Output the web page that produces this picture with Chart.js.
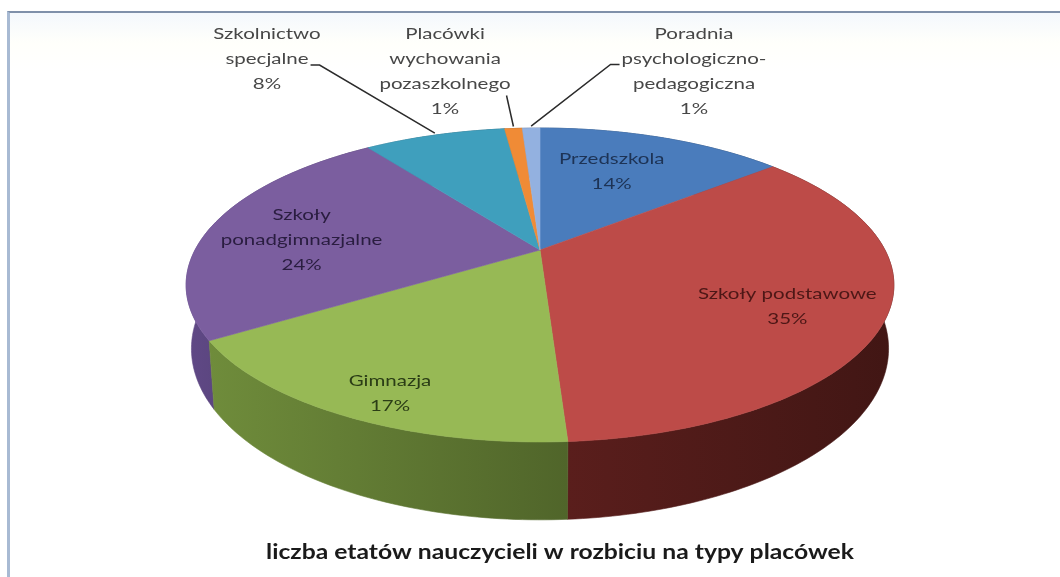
<!DOCTYPE html>
<html>
<head>
<meta charset="utf-8">
<script src="https://cdn.jsdelivr.net/npm/chart.js@4.4.1/dist/chart.umd.min.js"></script>
<style>
  html, body { margin: 0; padding: 0; background: #fff; }
  #wrap { position: relative; width: 1060px; height: 577px; overflow: hidden; }
  #frame { position: absolute; left: 7px; top: 11px; width: 1100px; height: 620px;
           border-left: 3px solid #a8bad3; border-top: 2px solid #7f90aa;
           background: linear-gradient(#f4f8fd, #fffffb 30px, #fff 60px); }
  canvas { position: absolute; left: 0; top: 0; }
</style>
</head>
<body>
<div id="wrap">
  <div id="frame"></div>
  <canvas id="pie" width="1060" height="577"></canvas>
</div>
<script>
/* DATA */
const categories = [
  "Przedszkola",
  "Szkoły podstawowe",
  "Gimnazja",
  "Szkoły\nponadgimnazjalne",
  "Szkolnictwo\nspecjalne",
  "Placówki\nwychowania\npozaszkolnego",
  "Poradnia\npsychologiczno-\npedagogiczna"
];
const shares = [14, 35, 17, 24, 8, 1, 1];
const chartTitle = "liczba etatów nauczycieli w rozbiciu na typy placówek";

/* STYLE */
const topColors  = ["#4a7cbc", "#bd4b48", "#97b955", "#7b5e9f", "#3f9fbd", "#f08b36", "#93b1e0"];
const sideColors = ["#2e4e78", "#5a1e1c", "#6f8c3b", "#604986", "#2c6f86", "#a65e1f", "#62789e"];
const textColors = ["#1d3355", "#4d1716", "#2b3d16", "#2a1d40"];

// projection of the flat pie into a tilted 3D disc (relative to outerRadius)
const RX = 1.568, RY = 0.678, PERSP = 0.223, DEPTH = 0.275, BOT_SHRINK = 0.985;
const HS = 1.28;               // horizontal text stretch of the source image
const TITLE_HS = 1.235;
const LINE = 25;
const LABEL_FONT = "16px Lato";

// inside labels: small nudges off the 3/4-radius point
const labelNudge = [[-24, 1], [-7, 1], [-12, 18], [8, 2]];

// outside labels: block centre, where the leader leaves the text
const callouts = {
  4: { x: 267, y: 59, line: 1, side: "right", elbow: true },
  5: { x: 445, y: 71, line: 2, side: "right", elbow: false },
  6: { x: 694, y: 71, line: 1, side: "left", elbow: true }
};

const shade = (hex, f) => {
  const n = parseInt(hex.slice(1), 16);
  const c = [n >> 16, (n >> 8) & 255, n & 255].map(v => Math.round(v * f));
  return `rgb(${c[0]},${c[1]},${c[2]})`;
};

function stext(ctx, str, x, y, hs) {
  ctx.save();
  ctx.translate(x, y);
  ctx.scale(hs || HS, 1);
  ctx.fillText(str, 0, 0);
  ctx.restore();
}

const pie3d = {
  id: "pie3d",
  beforeDatasetsDraw(chart) {
    const ctx = chart.ctx;
    const arcs = chart.getDatasetMeta(0).data;
    const cx = arcs[0].x, cy = arcs[0].y, r = arcs[0].outerRadius;

    const P = (a, f, drop) => {
      const u = Math.cos(a) * f, v = -Math.sin(a) * f;
      const d = 1 + PERSP * v;
      const x = cx + RX * r * u / d;
      if (!drop) return [x, cy - RY * r * v / d];
      return [cx + (x - cx) * BOT_SHRINK, cy - RY * r * v / d + DEPTH * r / d];
    };
    const rim = (a0, a1, drop) => {
      const n = Math.max(2, Math.ceil((a1 - a0) / (2 * Math.PI) * 360));
      const pts = [];
      for (let k = 0; k <= n; k++) pts.push(P(a0 + (a1 - a0) * k / n, 1, drop));
      return pts;
    };

    /* SIDE WALLS, far ones first */
    const order = arcs.map((el, i) => i).sort((i, j) => {
      const mi = (arcs[i].startAngle + arcs[i].endAngle) / 2;
      const mj = (arcs[j].startAngle + arcs[j].endAngle) / 2;
      return Math.sin(mi) - Math.sin(mj);
    });
    order.forEach(i => {
      const el = arcs[i];
      const top = rim(el.startAngle, el.endAngle, false);
      const bot = rim(el.startAngle, el.endAngle, true).reverse();
      const pts = top.concat(bot);
      const xs = pts.map(p => p[0]);
      const g = ctx.createLinearGradient(Math.min(...xs), 0, Math.max(...xs), 0);
      g.addColorStop(0, sideColors[i]);
      g.addColorStop(1, shade(sideColors[i], 0.72));
      ctx.beginPath();
      pts.forEach((p, k) => k ? ctx.lineTo(p[0], p[1]) : ctx.moveTo(p[0], p[1]));
      ctx.closePath();
      ctx.fillStyle = g;
      ctx.strokeStyle = g;
      ctx.lineWidth = 0.6;
      ctx.fill();
      ctx.stroke();
    });

    /* TOP FACES */
    arcs.forEach((el, i) => {
      const pts = rim(el.startAngle, el.endAngle, false);
      ctx.beginPath();
      ctx.moveTo(cx, cy);
      pts.forEach(p => ctx.lineTo(p[0], p[1]));
      ctx.closePath();
      ctx.fillStyle = topColors[i];
      ctx.strokeStyle = topColors[i];
      ctx.lineWidth = 0.6;
      ctx.fill();
      ctx.stroke();
    });

    /* LABELS */
    ctx.font = LABEL_FONT;
    ctx.textAlign = "center";
    ctx.textBaseline = "middle";
    arcs.forEach((el, i) => {
      const lines = categories[i].split("\n").concat([shares[i] + "%"]);
      const mid = (el.startAngle + el.endAngle) / 2;
      const c = callouts[i];
      if (!c) {
        const p = P(mid, 0.75, false);
        const nx = p[0] + labelNudge[i][0], ny = p[1] + 8 + labelNudge[i][1];
        ctx.fillStyle = textColors[i];
        lines.forEach((s, k) => stext(ctx, s, nx, ny + (k - (lines.length - 1) / 2) * LINE));
        return;
      }
      ctx.fillStyle = "#474747";
      lines.forEach((s, k) => stext(ctx, s, c.x, c.y + (k - (lines.length - 1) / 2) * LINE));
      // leader line
      const ly = c.y + (c.line - (lines.length - 1) / 2) * LINE;
      const w = ctx.measureText(lines[c.line]).width * HS / 2;
      const end = P(mid, 1, false);
      ctx.beginPath();
      ctx.strokeStyle = "#2b2b2b";
      ctx.lineWidth = 1.5;
      if (c.elbow) {
        const sx = c.side === "right" ? c.x + w + 2 : c.x - w - 2;
        const ex = c.side === "right" ? sx + 9 : sx - 9;
        ctx.moveTo(sx, ly + 6);
        ctx.lineTo(ex, ly + 6);
      } else {
        ctx.moveTo(c.x + w - 4, ly + 12);
      }
      ctx.lineTo(end[0], end[1] - 2);
      ctx.stroke();
    });

    /* TITLE */
    ctx.font = "bold 20px Lato";
    ctx.fillStyle = "#1a1a1a";
    ctx.textBaseline = "alphabetic";
    stext(ctx, chartTitle, 560, 559, TITLE_HS);

    return false;
  }
};

new Chart(document.getElementById("pie"), {
  type: "pie",
  data: {
    labels: categories,
    datasets: [{ data: shares, backgroundColor: topColors, borderWidth: 0 }]
  },
  options: {
    responsive: false,
    animation: false,
    layout: { padding: { left: 20, right: 0, top: 30, bottom: 107 } },
    plugins: {
      legend: { display: false },
      tooltip: { enabled: false },
      title: { display: false }
    }
  },
  plugins: [pie3d]
});
</script>
</body>
</html>
